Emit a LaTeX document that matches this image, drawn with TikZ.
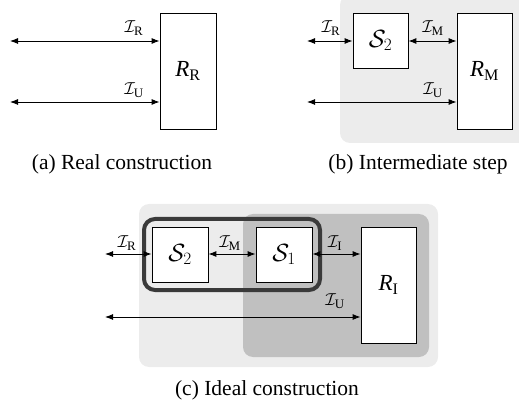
\documentclass[tikz,border=0pt]{standalone}
\usepackage{fontspec}
\setmainfont{Liberation Serif}
\usetikzlibrary{arrows.meta}
\definecolor{lightbg}{RGB}{236,236,236}
\definecolor{darkbg}{RGB}{192,192,192}
\definecolor{framecol}{RGB}{58,58,58}
\tikzset{
  box/.style={draw=black, line width=0.8pt, fill=white, inner sep=0pt, font=\fontsize{23}{25}\selectfont},
  link/.style={{Latex[length=8pt,width=6pt]}-{Latex[length=8pt,width=6pt]}, line width=0.9pt},
  lab/.style={font=\fontsize{18.5}{20}\selectfont, inner sep=1pt},
  captxt/.style={font=\fontsize{21.5}{24}\selectfont, inner sep=0pt},
  bgl/.style={fill=lightbg, draw=none, rounded corners=10pt},
  bgd/.style={fill=darkbg, draw=none, rounded corners=10pt},
}
\begin{document}
\begin{tikzpicture}[x=1pt,y=-1pt]
\useasboundingbox (0,0) rectangle (519,403);
\clip (0,0) rectangle (519,403);
% ---------- (a)
\node[box, minimum width=56pt, minimum height=116pt] (RR) at (188,71) {$\textit{R}_\mathrm{R}$};
\coordinate (aR) at (10,41);
\coordinate (aU) at (10,102);
\draw[link] (aR) -- (RR.west |- aR);
\draw[link] (aU) -- (RR.west |- aU);
\node[lab] (laR) at (134,28) {$\mathcal{I}_\mathrm{R}$};
\node[lab] (laU) at (134,90) {$\mathcal{I}_\mathrm{U}$};
\node[captxt] (capa) at (122,164) {(a) Real construction};
% ---------- (b)
\fill[bgl] (340,-5) rectangle (535,143);
\node[box, minimum width=55pt, minimum height=55pt] (S2b) at (380.5,40.5) {$\mathcal{S}_2$};
\node[box, minimum width=55pt, minimum height=116pt] (RM) at (484.5,71) {$\textit{R}_\mathrm{M}$};
\coordinate (bR) at (307,41);
\coordinate (bU) at (307,102);
\draw[link] (bR) -- (S2b.west |- bR);
\draw[link] (S2b.east |- bR) -- (RM.west |- bR);
\draw[link] (bU) -- (RM.west |- bU);
\node[lab] (lbR) at (331,28) {$\mathcal{I}_\mathrm{R}$};
\node[lab] (lbM) at (433,28) {$\mathcal{I}_\mathrm{M}$};
\node[lab] (lbU) at (433,90) {$\mathcal{I}_\mathrm{U}$};
\node[captxt] (capb) at (418,164) {(b) Intermediate step};
% ---------- (c)
\fill[bgl] (139,204) rectangle (438,367);
\fill[bgd] (243,214) rectangle (429,357);
\node[box, minimum width=56pt, minimum height=55pt] (S2c) at (180,254.5) {$\mathcal{S}_2$};
\node[box, minimum width=56pt, minimum height=55pt] (S1c) at (284,254.5) {$\mathcal{S}_1$};
\node[box, minimum width=55pt, minimum height=116pt] (RI) at (388.5,285) {$\textit{R}_\mathrm{I}$};
\draw[draw=framecol, line width=4pt, rounded corners=11pt] (144,219) rectangle (320,290);
\coordinate (cR) at (105,254);
\coordinate (cU) at (105,317);
\draw[link] (cR) -- (S2c.west |- cR);
\draw[link] (S2c.east |- cR) -- (S1c.west |- cR);
\draw[link] (S1c.east |- cR) -- (RI.west |- cR);
\draw[link] (cU) -- (RI.west |- cU);
\node[lab] (lcR) at (127,243) {$\mathcal{I}_\mathrm{R}$};
\node[lab] (lcM) at (230,243) {$\mathcal{I}_\mathrm{M}$};
\node[lab] (lcI) at (335,243) {$\mathcal{I}_\mathrm{I}$};
\node[lab] (lcU) at (335,301) {$\mathcal{I}_\mathrm{U}$};
\node[captxt] (capc) at (267,390) {(c) Ideal construction};
\end{tikzpicture}
\end{document}
